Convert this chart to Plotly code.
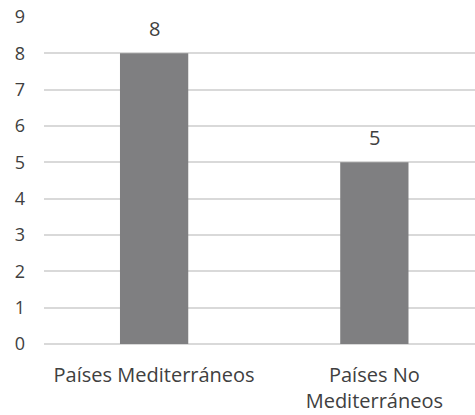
import plotly.graph_objects as go

categories = ["Países Mediterráneos", "Países No<br>Mediterráneos"]
values = [8, 5]
y_ticks = list(range(0, 10))

fig = go.Figure()
fig.add_trace(go.Bar(
    x=categories, y=values, width=0.31,
    marker=dict(color="#7f7f81", line=dict(width=0)),
    text=[str(v) for v in values], textposition="none",
))
for c, v in zip(categories, values):
    fig.add_annotation(x=c, y=v, text=str(v), showarrow=False, yanchor="bottom",
                       yshift=9, font=dict(family="Open Sans", size=20, color="#404040"))

fig.update_layout(
    width=475, height=415,
    margin=dict(l=44, r=0, t=17, b=71),
    plot_bgcolor="white", paper_bgcolor="white",
    showlegend=False,
    font=dict(family="Open Sans", color="#404040"),
    xaxis=dict(range=[-0.5, 1.457], showgrid=False, showline=False, zeroline=False,
               tickfont=dict(size=20, color="#404040"), ticks="", ticklabelstandoff=17,
               automargin=False),
    yaxis=dict(range=[0, 9], tickvals=y_ticks, showgrid=True, gridcolor="#d9d9d9", gridwidth=1.5,
               zeroline=True, zerolinecolor="#d9d9d9", zerolinewidth=1.5, showline=False,
               tickfont=dict(size=18, color="#404040"), ticks="", ticklabelstandoff=18,
               automargin=False),
)
fig.write_html("out.html")
